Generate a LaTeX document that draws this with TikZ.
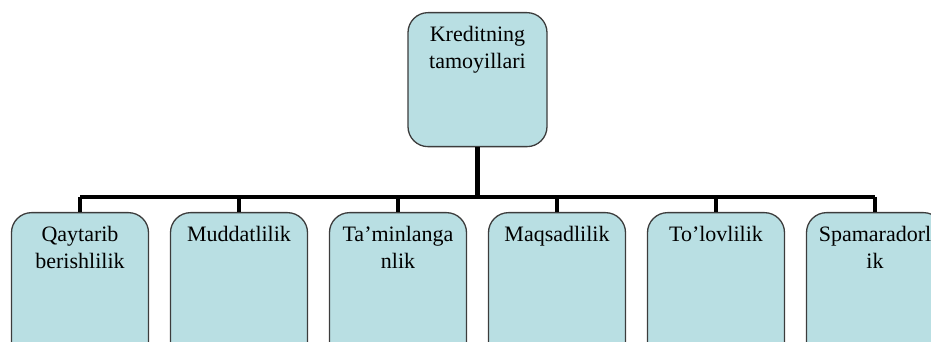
\documentclass[tikz,border=0pt]{standalone}
\usepackage{fontspec}
\setmainfont{Liberation Serif}
\usetikzlibrary{positioning}
\definecolor{boxfill}{RGB}{185,223,227}
\definecolor{boxline}{RGB}{60,60,60}
\begin{document}
\begin{tikzpicture}[x=1pt, y=1pt,
	box/.style={draw=boxline, line width=1.3pt, fill=boxfill, rounded corners=20pt, anchor=north, minimum width=137pt},
	txt/.style={font=\fontsize{22}{27}\selectfont, align=center, inner sep=0pt, anchor=north},
	wire/.style={line width=3.5pt}]
	\path[use as bounding box, clip] (0,0) rectangle (931,342);
	\node[box, minimum width=139pt, minimum height=134pt] (root) at (477.5,330) {};% Ildiz
	\node[txt, below=14pt of root.north] (roottxt) {Kreditning\\tamoyillari};
	\foreach \i/\x/\lbl in {1/80/{Qaytarib\\berishlilik}, 2/239/{Muddatlilik}, 3/398/{Ta’minlanga\\nlik}, 4/557/{Maqsadlilik}, 5/716/{To’lovlilik}, 6/875/{Spamaradorl\\ik}}{
		\node[box, minimum height=150pt] (c\i) at (\x,130) {};
		\node[txt, below=14pt of c\i.north] (t\i) {\lbl};
	}
	\coordinate (bar) at (477.5,145);
	\draw[line width=4.5pt] (root.south) -- (bar);% Ustun
	\draw[line width=4pt] (c1.north |- bar) -- (c6.north |- bar);
	\foreach \i in {1,...,6}{\draw[wire] (c\i.north |- bar) -- (c\i.north);}
\end{tikzpicture}
\end{document}
